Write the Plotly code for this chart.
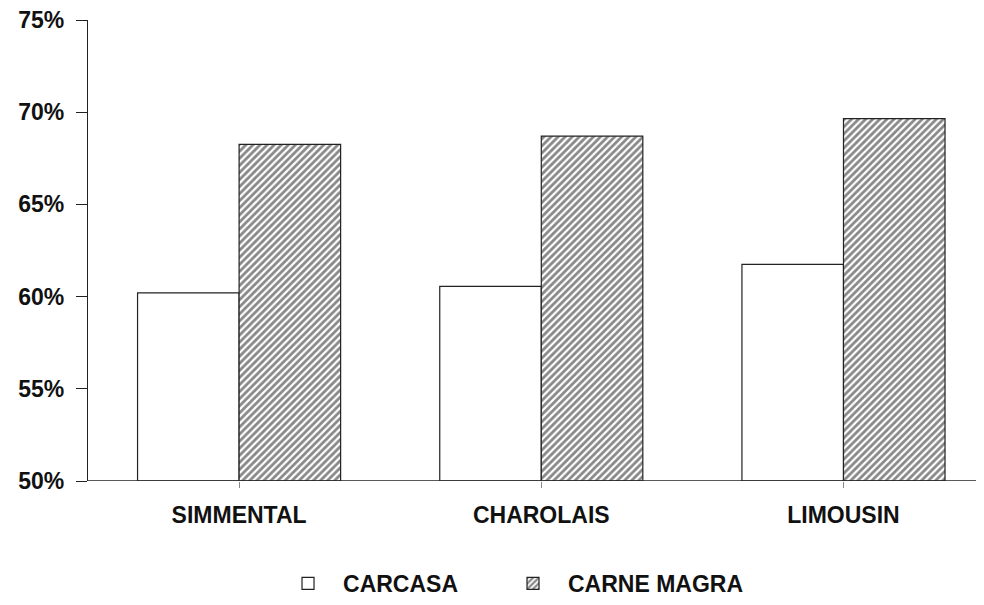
import plotly.graph_objects as go

categories = ["SIMMENTAL", "CHAROLAIS", "LIMOUSIN"]
carcasa = [60.2, 60.55, 61.75]
carne_magra = [68.25, 68.7, 69.65]
y_ticks = [50, 55, 60, 65, 70, 75]
y_tick_labels = ["50%", "55%", "60%", "65%", "70%", "75%"]
BASE = 50

FONT = "Liberation Sans, Arial, sans-serif"
BOLD = dict(family=FONT, size=23, color="#111", weight="bold")

fig = go.Figure()
fig.add_trace(go.Bar(
    name="CARCASA", x=categories, y=[v - BASE for v in carcasa], base=BASE,
    marker=dict(color="white", line=dict(color="#222", width=1.2)),
    legend="legend",
))
fig.add_trace(go.Bar(
    name="CARNE MAGRA", x=categories, y=[v - BASE for v in carne_magra], base=BASE,
    marker=dict(color="white", line=dict(color="#222", width=1.2),
                pattern=dict(shape="/", fgcolor="#111", bgcolor="white",
                             size=5, solidity=0.55)),
    legend="legend2",
))

LEG = dict(orientation="h", xanchor="left", yref="container", y=0, yanchor="bottom",
           font=BOLD, itemwidth=60, bgcolor="rgba(0,0,0,0)")

# page body adds an 8px offset; figure sized to fill the rest of the window
fig.update_layout(
    width=976, height=597,
    margin=dict(l=80, r=0, t=12, b=124),
    paper_bgcolor="white", plot_bgcolor="white",
    barmode="group", bargap=0.328, bargroupgap=0,
    font=BOLD,
    showlegend=True,
    legend=dict(LEG, x=0.2065),
    legend2=dict(LEG, x=0.4576),
    xaxis=dict(
        range=[-0.5, 2.465], showgrid=False, zeroline=False, automargin=False,
        showline=False, ticks="outside", ticklen=6, tickcolor="#888", tickwidth=1,
        ticklabelstandoff=7, tickfont=BOLD,
    ),
    yaxis=dict(
        range=[50, 75], showgrid=False, zeroline=False, automargin=False,
        showline=True, linecolor="#222", linewidth=1.2,
        ticks="outside", ticklen=11, tickcolor="#222", tickwidth=1.2,
        tickvals=y_ticks, ticktext=y_tick_labels, ticklabelstandoff=7,
        ticklabeloverflow="allow", tickfont=BOLD,
    ),
)
# baseline of the chart spanning the full plot width
fig.add_shape(type="line", xref="paper", yref="y", x0=0, x1=1, y0=BASE, y1=BASE,
              line=dict(color="#222", width=1.5))

fig.write_html("out.html")
